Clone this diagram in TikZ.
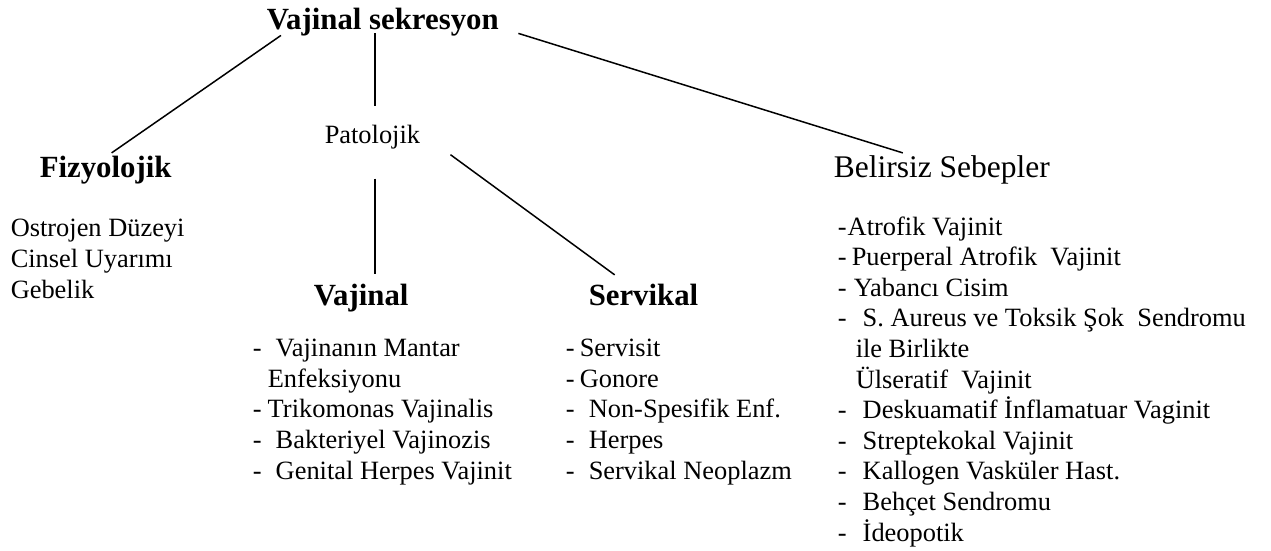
\documentclass[tikz,border=0pt]{standalone}
\usepackage{fontspec}
\setmainfont{Liberation Serif}
\newcommand{\itm}[2]{\makebox[#1][l]{-}#2}

\begin{document}
\begin{tikzpicture}[x=1pt, y=-1pt, line width=1.5pt,
    hd/.style={inner sep=0pt, anchor=base west, font=\bfseries\fontsize{30.8}{36}\selectfont},
    tx/.style={inner sep=0pt, anchor=base west, align=left, font=\fontsize{26.4}{30.6}\selectfont}]
  \useasboundingbox (0,0) rectangle (1271,551);
  % headings
  \node[hd] (title) at (266,30) {Vajinal sekresyon};
  \node[hd] (fiz) at (39,177) {Fizyolojik};
  \node[tx] (pato) at (324,143) {Patolojik};
  \node[tx, font=\fontsize{31.5}{36}\selectfont] (bel) at (833,177) {Belirsiz Sebepler};
  \node[hd] (vaj) at (313,305) {Vajinal};
  \node[hd] (serv) at (588,305) {Servikal};
  % lists (placed by the base of their last line)
  \node[tx] (fizl) at (10,298) {Ostrojen Düzeyi\\Cinsel Uyarımı\\Gebelik};
  \node[tx] (vajl) at (252,479) {\itm{23pt}{Vajinanın Mantar}\\
    \hspace*{15pt}Enfeksiyonu\\
    \itm{15pt}{Trikomonas Vajinalis}\\
    \itm{23pt}{Bakteriyel Vajinozis}\\
    \itm{23pt}{Genital Herpes Vajinit}};
  \node[tx] (servl) at (565,479) {\itm{14pt}{Servisit}\\
    \itm{14pt}{Gonore}\\
    \itm{23pt}{Non-Spesifik Enf.}\\
    \itm{23pt}{Herpes}\\
    \itm{23pt}{Servikal Neoplazm}};
  \node[tx] (bell) at (837,541) {\itm{10pt}{Atrofik Vajinit}\\
    \itm{14pt}{Puerperal Atrofik\ \ Vajinit}\\
    \itm{16pt}{Yabancı Cisim}\\
    \itm{25pt}{S. Aureus ve Toksik Şok\ \ Sendromu}\\
    \hspace*{18pt}ile Birlikte\\
    \hspace*{18pt}Ülseratif\ \ Vajinit\\
    \itm{25pt}{Deskuamatif İnflamatuar Vaginit}\\
    \itm{25pt}{Streptekokal Vajinit}\\
    \itm{25pt}{Kallogen Vasküler Hast.}\\
    \itm{25pt}{Behçet Sendromu}\\
    \itm{25pt}{İdeopotik}};
  % connectors
  \draw ([xshift=15pt,yshift=2pt]title.south west) -- ([xshift=6pt,yshift=2pt]fiz.north);
  \draw ([xshift=2.5pt,yshift=18pt]pato.north) coordinate (p1) -- ([yshift=4pt]p1 |- title.south);
  \draw ([xshift=19pt,yshift=4pt]title.south east) -- ([xshift=-39pt,yshift=1.5pt]bel.north);
  \draw ([xshift=29.6pt,yshift=-5.3pt]pato.south east) -- ([xshift=-28.8pt,yshift=8pt]serv.north);
  \draw ([xshift=2.5pt,yshift=-29.3pt]pato.south) coordinate (p2) -- ([yshift=9.2pt]p2 |- vaj.north);
\end{tikzpicture}
\end{document}
